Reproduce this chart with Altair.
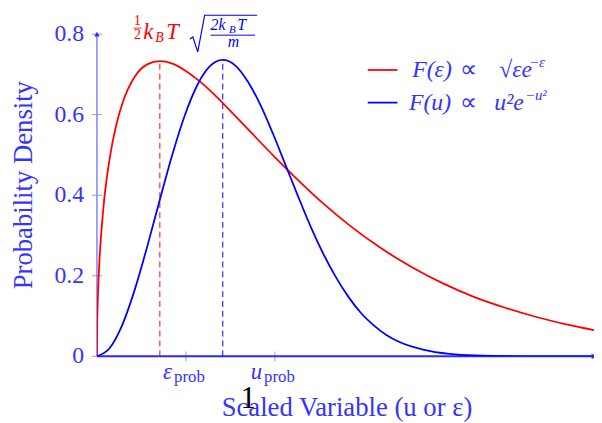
import altair as alt
import pandas as pd

# ---- data ----
eps_x = [0, 0.002, 0.005, 0.01, 0.02, 0.05, 0.1, 0.15, 0.2, 0.3, 0.4, 0.5, 0.6, 0.7, 0.8, 0.9,
         1.0, 1.2, 1.4, 1.6, 1.8, 2.0, 2.25, 2.5, 2.75, 3.0, 3.25, 3.5, 3.75, 3.95]
eps_y = [0, 0.076, 0.120, 0.169, 0.237, 0.364, 0.489, 0.570, 0.626, 0.694, 0.725, 0.733, 0.727,
         0.710, 0.687, 0.660, 0.629, 0.564, 0.499, 0.437, 0.379, 0.327, 0.270, 0.222, 0.181,
         0.147, 0.120, 0.097, 0.078, 0.065]
u_x = [0, 0.1, 0.2, 0.3, 0.4, 0.5, 0.6, 0.7, 0.8, 0.9, 1.0, 1.1, 1.2, 1.3, 1.4, 1.5, 1.6, 1.7,
       1.8, 1.9, 2.0, 2.1, 2.2, 2.3, 2.4, 2.6, 2.8, 3.0, 3.5, 3.95]
u_y = [0, 0.020, 0.077, 0.165, 0.273, 0.389, 0.502, 0.600, 0.675, 0.721, 0.736, 0.722, 0.682,
       0.624, 0.552, 0.474, 0.396, 0.321, 0.254, 0.196, 0.147, 0.107, 0.077, 0.053, 0.036,
       0.016, 0.006, 0.002, 0.0, 0.0]
peak_x = [0.5, 1.0]
peak_y = [0.733, 0.736]
peak_series = ["eps", "u"]
y_ticks = [0, 0.2, 0.4, 0.6, 0.8]
y_tick_labels = ["0", "0.2", "0.4", "0.6", "0.8"]
x_ticks = [0.7071, 1.4142]
x_tick_main = ["ε", "u"]
x_tick_sub = ["prob", "prob"]
legend_lhs = ["F(ε)", "F(u)"]
legend_rel = ["∝", "∝"]
legend_base = ["√εe", "u²e"]
legend_sup = ["−ε", "−u²"]
y_title = "Probability Density"
x_title = "Scaled Variable (u or ε)"

RED = "#ff0000"
BLUE = "#0000ff"
TXT = "#3434ff"
FONT = "Liberation Serif"

xs = alt.Scale(domain=[0, 3.95], nice=False, zero=False)
ys = alt.Scale(domain=[0, 0.8], nice=False, zero=False)


def X(f="x"):
    return alt.X(f, type="quantitative", scale=xs, axis=None)


def Y(f="y"):
    return alt.Y(f, type="quantitative", scale=ys, axis=None)


curves = pd.DataFrame(
    {"x": eps_x + u_x, "y": eps_y + u_y,
     "s": ["eps"] * len(eps_x) + ["u"] * len(u_x),
     "o": list(range(len(eps_x))) + list(range(len(u_x)))}
)
cscale = alt.Scale(domain=["eps", "u"], range=[RED, BLUE])

lines = alt.Chart(curves).mark_line(strokeWidth=1.8, interpolate="monotone", clip=True).encode(
    x=X(), y=Y(), color=alt.Color("s:N", scale=cscale, legend=None), detail="s:N", order="o:Q"
)

peaks = pd.DataFrame({"x": peak_x, "y0": [0, 0], "y": peak_y, "s": peak_series})
dashed = alt.Chart(peaks).mark_rule(strokeDash=[6, 4], strokeWidth=1).encode(
    x=X(), y=Y("y0"), y2="y", color=alt.Color("s:N", scale=cscale, legend=None)
)

# axis lines and ticks
yaxis_df = pd.DataFrame({"x": [0], "y0": [0], "y": [0.8]})
yaxis = alt.Chart(yaxis_df).mark_rule(color="#8080ff", strokeWidth=1.5).encode(x=X(), y=Y("y0"), y2="y")
xaxis_df = pd.DataFrame({"x0": [0], "x": [3.95], "y": [0]})
xaxis = alt.Chart(xaxis_df).mark_rule(color="#2a2aff", strokeWidth=2).encode(x=X("x0"), x2="x", y=Y())
arrow_up = alt.Chart(pd.DataFrame({"x": [0], "y": [0.8]})).mark_point(
    shape="triangle-up", filled=True, size=30, color="#2a2aff", opacity=1
).encode(x=X(), y=Y())
arrow_right = alt.Chart(pd.DataFrame({"x": [3.95], "y": [0]})).mark_point(
    shape="triangle-right", filled=True, size=30, color="#2a2aff", opacity=1
).encode(x=X(), y=Y())

ytick_df = pd.DataFrame({"x0": [-0.04] * len(y_ticks), "x": [0.04] * len(y_ticks), "y": y_ticks})
yticks = alt.Chart(ytick_df).mark_rule(color="#a0a0a0", strokeWidth=1).encode(x=X("x0"), x2="x", y=Y())
xtick_df = pd.DataFrame({"x": x_ticks, "y0": [-0.012] * 2, "y": [0.012] * 2})
xticks = alt.Chart(xtick_df).mark_rule(color="#a0a0a0", strokeWidth=1).encode(x=X(), y=Y("y0"), y2="y")


def text_layer(df, align="left", baseline="alphabetic", style="normal", angle=0, color=TXT, size=21):
    return alt.Chart(df).mark_text(
        align=align, baseline=baseline, fontStyle=style, angle=angle, font=FONT,
        color=color, fontSize=size
    ).encode(x=X(), y=Y(), text="t:N")


ylab = text_layer(pd.DataFrame({"x": [-0.102] * 5, "y": y_ticks, "t": y_tick_labels}),
                  align="right", baseline="middle", size=24)
ytitle = text_layer(pd.DataFrame({"x": [-0.58], "y": [0.425], "t": [y_title]}),
                    align="center", baseline="middle", angle=270, size=27)
xmain = text_layer(pd.DataFrame({"x": [0.597, 1.312], "y": [-0.0564, -0.0564], "t": x_tick_main}),
                   align="right", style="italic", size=23)
xsub = text_layer(pd.DataFrame({"x": [0.613, 1.328], "y": [-0.065, -0.065], "t": x_tick_sub}),
                  align="left", size=17)
one = text_layer(pd.DataFrame({"x": [1.202], "y": [-0.1276], "t": ["1"]}),
                 align="center", color="#000000", size=31)
xtitle = text_layer(pd.DataFrame({"x": [1.987], "y": [-0.147], "t": [x_title]}),
                    align="center", size=27)

# legend
leg_lines_df = pd.DataFrame({"x0": [2.152, 2.152], "x": [2.388, 2.388], "y": [0.711, 0.630], "s": ["eps", "u"]})
leg_lines = alt.Chart(leg_lines_df).mark_rule(strokeWidth=1.8).encode(
    x=X("x0"), x2="x", y=Y(), color=alt.Color("s:N", scale=cscale, legend=None)
)
leg_lhs = text_layer(pd.DataFrame({"x": [2.663, 2.647], "y": [0.712, 0.628], "t": legend_lhs}),
                     align="center", baseline="middle", style="italic", size=24)
leg_rel = text_layer(pd.DataFrame({"x": [2.954, 2.954], "y": [0.712, 0.628], "t": legend_rel}),
                     align="center", baseline="middle", size=24)
leg_base = text_layer(pd.DataFrame({"x": [3.197, 3.158], "y": [0.712, 0.628], "t": legend_base}),
                      align="left", baseline="middle", style="italic", size=24)
leg_sup = text_layer(pd.DataFrame({"x": [3.433, 3.401], "y": [0.731, 0.650], "t": legend_sup}),
                     align="left", baseline="middle", style="italic", size=15)

# annotation above the peaks: 1/2 k_B T  sqrt(2 k_B T / m)
half_num = text_layer(pd.DataFrame({"x": [0.322], "y": [0.822], "t": ["1"]}),
                      align="center", size=14, color=RED)
half_den = text_layer(pd.DataFrame({"x": [0.322], "y": [0.789], "t": ["2"]}),
                      align="center", size=14, color=RED)
half_bar = alt.Chart(pd.DataFrame({"x0": [0.291], "x": [0.3535], "y": [0.815]})).mark_rule(
    color=RED, strokeWidth=0.8).encode(x=X("x0"), x2="x", y=Y())
ann_red_it = text_layer(pd.DataFrame({"x": [0.369, 0.55], "y": [0.788, 0.788], "t": ["k", "T"]}),
                        style="italic", size=23, color=RED)
ann_red_sub = text_layer(pd.DataFrame({"x": [0.4635], "y": [0.780], "t": ["B"]}),
                         style="italic", size=14, color=RED)

radical_df = pd.DataFrame({"x": [0.738, 0.762, 0.801, 0.856, 1.273],
                           "y": [0.788, 0.793, 0.756, 0.847, 0.847], "o": [0, 1, 2, 3, 4]})
radical = alt.Chart(radical_df).mark_line(color=BLUE, strokeWidth=1.2).encode(x=X(), y=Y(), order="o:Q")
ann_blue_it = text_layer(pd.DataFrame({"x": [0.903, 1.115], "y": [0.810, 0.810], "t": ["2k", "T"]}),
                         style="italic", size=16, color=BLUE)
ann_blue_sub = text_layer(pd.DataFrame({"x": [1.050], "y": [0.802], "t": ["B"]}),
                          style="italic", size=11, color=BLUE)
ann_m = text_layer(pd.DataFrame({"x": [1.084], "y": [0.768], "t": ["m"]}),
                   align="center", style="italic", size=16, color=BLUE)
frac_bar = alt.Chart(pd.DataFrame({"x0": [0.903], "x": [1.257], "y": [0.7975]})).mark_rule(
    color=BLUE, strokeWidth=1).encode(x=X("x0"), x2="x", y=Y())

chart = alt.layer(
    yticks, xticks, yaxis, xaxis, dashed, lines, arrow_up, arrow_right,
    ylab, ytitle, xmain, xsub, one, xtitle,
    leg_lines, leg_lhs, leg_rel, leg_base, leg_sup,
    half_num, half_den, half_bar, ann_red_it, ann_red_sub,
    radical, ann_blue_it, ann_blue_sub, ann_m, frac_bar,
).properties(
    width=503, height=326,
    autosize=alt.AutoSizeParams(type="none"),
    padding={"left": 90, "top": 24, "right": 0, "bottom": 64},
    background="white",
).configure_view(stroke=None)

chart.save("out.html", embed_options={"renderer": "svg", "actions": False})
